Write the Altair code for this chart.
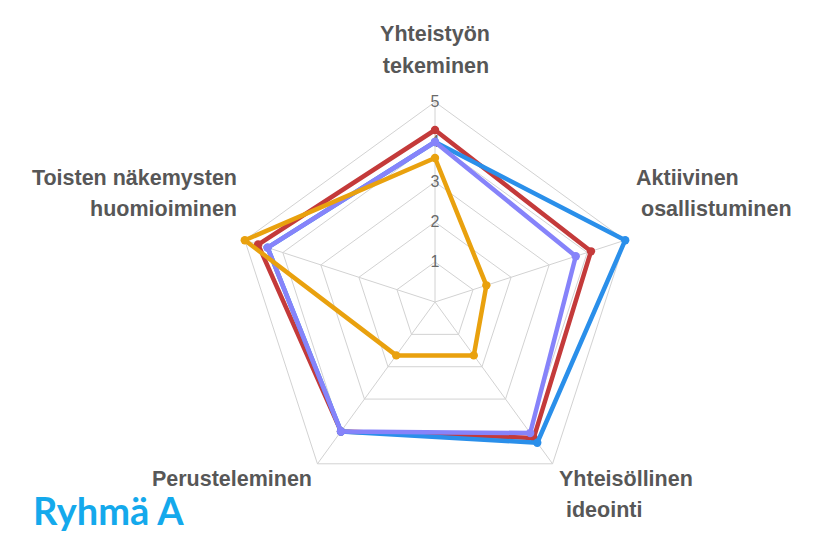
import math
import altair as alt
import pandas as pd

# ---------------- data ----------------
categories = ["Yhteistyön tekeminen", "Aktiivinen osallistuminen",
              "Yhteisöllinen ideointi", "Perusteleminen",
              "Toisten näkemysten huomioiminen"]
series_names = ["Sarja 1", "Sarja 2", "Sarja 3", "Sarja 4"]
values_red = [4.3, 4.1, 4.2, 4.0, 4.65]
values_blue = [4.0, 5.0, 4.35, 4.0, 4.4]
values_purple = [4.0, 3.7, 4.05, 4.0, 4.4]
values_orange = [3.6, 1.35, 1.65, 1.65, 5.0]
series_values = [values_red, values_blue, values_purple, values_orange]
series_colors = ["#C43A3A", "#2A8FEA", "#8683FA", "#E9A10E"]
grid_levels = [1, 2, 3, 4, 5]
tick_labels = ["1", "2", "3", "4", "5"]
title_text = "Ryhmä A"

# ---------------- layout ----------------
W, H = 800, 526
PX = 40.0                       # pixels per unit
CX, CY = 435 - 8, 302 - 8       # centre in plot pixels
XMIN, XMAX = -CX / PX, (W - CX) / PX
YMAX = CY / PX
YMIN = YMAX - H / PX

N = len(categories)
angles = [math.radians(90 - 72 * i) for i in range(N)]


def pol(r, i):
    return r * math.cos(angles[i]), r * math.sin(angles[i])


def page_x(px):
    return XMIN + (px - 8) / PX


def page_y(py):
    return YMAX - (py - 8) / PX


xs = alt.Scale(domain=[XMIN, XMAX], nice=False, zero=False)
ys = alt.Scale(domain=[YMIN, YMAX], nice=False, zero=False)
X = lambda f: alt.X(f, type="quantitative", scale=xs, axis=None)
Y = lambda f: alt.Y(f, type="quantitative", scale=ys, axis=None)

# grid pentagons
grid_rows = []
for lv in grid_levels:
    for k in range(N + 1):
        x, y = pol(lv, k % N)
        grid_rows.append({"level": lv, "idx": k, "x": x, "y": y})
grid_df = pd.DataFrame(grid_rows)

spoke_rows = []
for i in range(N):
    x, y = pol(max(grid_levels), i)
    spoke_rows.append({"axis": i, "idx": 0, "x": 0.0, "y": 0.0})
    spoke_rows.append({"axis": i, "idx": 1, "x": x, "y": y})
spoke_df = pd.DataFrame(spoke_rows)

grid = alt.Chart(grid_df).mark_line(color="#d2d2d2", strokeWidth=1).encode(
    x=X("x"), y=Y("y"), detail="level:N", order="idx:Q")
spokes = alt.Chart(spoke_df).mark_line(color="#d2d2d2", strokeWidth=1).encode(
    x=X("x"), y=Y("y"), detail="axis:N", order="idx:Q")

tick_df = pd.DataFrame({"x": [0.0] * len(grid_levels), "y": grid_levels,
                        "t": tick_labels})
ticks = alt.Chart(tick_df).mark_text(
    font="Liberation Sans", fontSize=16, color="#6a6a6a",
    align="center", baseline="middle").encode(x=X("x"), y=Y("y"), text="t:N")

# axis labels (lines of each category label), page pixel anchors
label_lines = [
    ("Yhteistyön", 435, 41, "center"),
    ("tekeminen", 436, 73, "center"),
    ("Aktiivinen", 636, 185, "left"),
    ("osallistuminen", 641, 216, "left"),
    ("Toisten näkemysten", 237, 185, "right"),
    ("huomioiminen", 237, 216, "right"),
    ("Perusteleminen", 312, 486, "right"),
    ("Yhteisöllinen", 559, 486, "left"),
    ("ideointi", 566, 517, "left"),
]
label_layers = []
for align in ["left", "center", "right"]:
    rows = [{"t": t, "x": page_x(px), "y": page_y(py)}
            for t, px, py, a in label_lines if a == align]
    label_layers.append(
        alt.Chart(pd.DataFrame(rows)).mark_text(
            font="Liberation Sans", fontSize=21.5, fontWeight="bold",
            color="#575757", align=align, baseline="alphabetic").encode(
            x=X("x"), y=Y("y"), text="t:N"))

series_layers = []
for name, vals, col in zip(series_names, series_values, series_colors):
    rows = []
    for k in range(N + 1):
        x, y = pol(vals[k % N], k % N)
        rows.append({"s": name, "idx": k, "x": x, "y": y,
                     "cat": categories[k % N], "v": vals[k % N]})
    df = pd.DataFrame(rows)
    line = alt.Chart(df).mark_line(
        color=col, strokeWidth=4.5, strokeJoin="round").encode(
        x=X("x"), y=Y("y"), order="idx:Q")
    pts = alt.Chart(df[df.idx < N]).mark_point(
        color=col, filled=True, opacity=1, size=70).encode(
        x=X("x"), y=Y("y"))
    series_layers += [line, pts]

title_df = pd.DataFrame({"t": [title_text], "x": [page_x(33)], "y": [page_y(525)]})
title = alt.Chart(title_df).mark_text(
    font="Lato", fontSize=38, fontWeight="bold", color="#14A9EC",
    align="left", baseline="alphabetic").encode(x=X("x"), y=Y("y"), text="t:N")

chart = alt.layer(grid, spokes, ticks, *label_layers, *series_layers, title).properties(
    width=W, height=H, padding=0,
    autosize=alt.AutoSizeParams(type="none"),
).configure_view(stroke=None)

chart.save("out.html", embed_options={"renderer": "svg", "actions": False})
